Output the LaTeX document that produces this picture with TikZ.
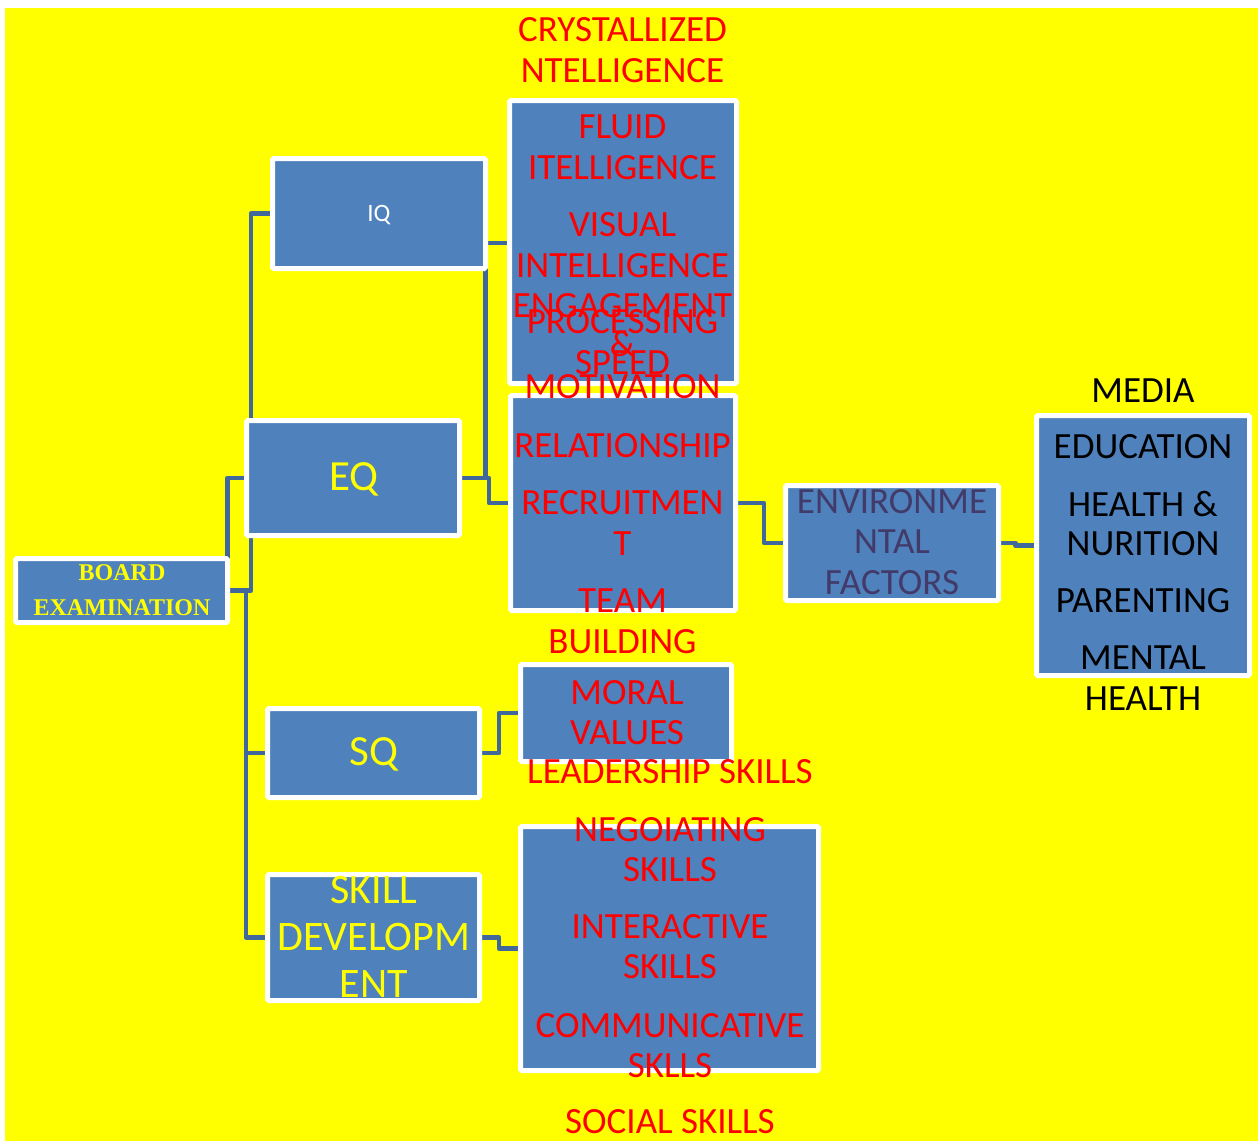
\documentclass[tikz,border=0pt]{standalone}
\usepackage{fontspec}
\setmainfont{Carlito}
\newfontfamily\boardfont{Liberation Serif}
\definecolor{boxblue}{RGB}{79,129,189}
\definecolor{connblue}{RGB}{64,104,154}
\definecolor{bgyellow}{RGB}{255,255,0}
\definecolor{envtext}{RGB}{66,58,104}
\tikzset{
  box/.style={draw=white, fill=boxblue, line width=5pt, rounded corners=1.5pt, inner sep=0pt, outer sep=0pt},
  conn/.style={draw=connblue, line width=4.5pt, line join=round},
  txt/.style={inner sep=0pt, anchor=base},
  redtxt/.style={txt, text=red, font=\fontsize{37}{40}\selectfont},
  blacktxt/.style={txt, text=black, font=\fontsize{37}{40}\selectfont},
  envtxt/.style={txt, text=envtext, font=\fontsize{37}{40}\selectfont},
  bigyellow/.style={txt, text=bgyellow, font=\fontsize{43}{46}\selectfont},
  sdtxt/.style={txt, text=bgyellow, font=\fontsize{42}{44}\selectfont},
}
\begin{document}
\begin{tikzpicture}[x=1pt, y=-1pt]
\useasboundingbox (0,0) rectangle (1258,1141);
\fill[white] (0,0) rectangle (1258,1141);
\fill[bgyellow] (5,8) rectangle (1258,1141);

% boxes (positions only; drawn after connectors)
\path
  (121.5,590.5) node[box, minimum width=212pt, minimum height=64pt, draw=none, fill=none] (board) {}
  (379,213.5) node[box, minimum width=213pt, minimum height=110pt, draw=none, fill=none] (iq) {}
  (353,478) node[box, minimum width=213pt, minimum height=115pt, draw=none, fill=none] (eq) {}
  (373.5,753) node[box, minimum width=212pt, minimum height=89pt, draw=none, fill=none] (sq) {}
  (373.5,937.5) node[box, minimum width=212pt, minimum height=126pt, draw=none, fill=none] (sd) {}
  (623,242) node[box, minimum width=227pt, minimum height=283pt, draw=none, fill=none] (fluid) {}
  (623,503) node[box, minimum width=225pt, minimum height=215pt, draw=none, fill=none] (rel) {}
  (892,543) node[box, minimum width=213pt, minimum height=115pt, draw=none, fill=none] (env) {}
  (1143,545.5) node[box, minimum width=213pt, minimum height=260pt, draw=none, fill=none] (edu) {}
  (626,713) node[box, minimum width=211pt, minimum height=97pt, draw=none, fill=none] (moral) {}
  (669.5,948.5) node[box, minimum width=298pt, minimum height=244pt, draw=none, fill=none] (skills) {};

% connectors
\draw[conn] (board.east) -- ++(23.5,0) |- (iq.west);
\draw[conn] (board.east) |- (eq.west);
\draw[conn] (board.east) -- ++(18.5,0) |- (sq.west);
\draw[conn] (board.east) -- ++(18.5,0) |- (sd.west);
\draw[conn] (eq.east) -- ++(26,0) |- ([yshift=-1pt]fluid.west);
\draw[conn] (eq.east) -- ++(29.5,0) |- (rel.west);
\draw[conn] (rel.east) -- ++(28.5,0) |- (env.west);
\draw[conn] (env.east) -- ++(17,0) |- (edu.west);
\draw[conn] (sq.east) -- ++(19.5,0) |- (moral.west);
\draw[conn] (sd.east) -- ++(19.5,0) |- (skills.west);

% visible boxes
\foreach \n in {board,iq,eq,sq,sd,fluid,rel,env,edu,moral,skills}{
  \draw[draw=white, fill=boxblue, line width=5pt, rounded corners=1.5pt]
    (\n.north west) rectangle (\n.south east);
}

% texts
\node[txt, text=bgyellow, font=\boardfont\bfseries\fontsize{24}{26}\selectfont] (b1) at (122,580) {BOARD};
\node[txt, text=bgyellow, font=\boardfont\bfseries\fontsize{24}{26}\selectfont] (b2) at (122,615) {EXAMINATION};
\node[txt, text=white, font=\fontsize{25}{28}\selectfont] (iqt) at (379,221) {IQ};
\node[bigyellow] (eqt) at (354,490) {EQ};
\node[bigyellow] (sqt) at (374,765) {SQ};
\node[sdtxt] (sd1) at (374,903) {SKILL};
\node[sdtxt] (sd2) at (374,950) {DEVELOPM};
\node[sdtxt] (sd3) at (374,997) {ENT};

\node[redtxt] (f1) at (622.5,41) {CRYSTALLIZED};
\node[redtxt] (f2) at (622.5,82) {NTELLIGENCE};
\node[redtxt] (f3) at (622.5,138) {FLUID};
\node[redtxt] (f4) at (622.5,179) {ITELLIGENCE};
\node[redtxt] (f5) at (622.5,236) {VISUAL};
\node[redtxt] (f6) at (622.5,277) {INTELLIGENCE};
\node[redtxt] (f7) at (622.5,333) {PROCESSING};
\node[redtxt] (f8) at (622.5,356) {\&};
\node[redtxt] (f9) at (622.5,374) {SPEED};

\node[redtxt] (r1) at (622.5,317) {ENGAGEMENT};
\node[redtxt] (r2) at (622.5,398) {MOTIVATION};
\node[redtxt] (r3) at (622.5,457) {RELATIONSHIP};
\node[redtxt] (r4) at (622.5,514) {RECRUITMEN};
\node[redtxt] (r5) at (622.5,555) {T};
\node[redtxt] (r6) at (622.5,612) {TEAM};
\node[redtxt] (r7) at (622.5,653) {BUILDING};

\node[envtxt] (e1) at (892,513) {ENVIRONME};
\node[envtxt] (e2) at (892,553) {NTAL};
\node[envtxt] (e3) at (892,594) {FACTORS};

\node[blacktxt] (m1) at (1143,402) {MEDIA};
\node[blacktxt] (m2) at (1143,458) {EDUCATION};
\node[blacktxt] (m3) at (1143,516) {HEALTH \&};
\node[blacktxt] (m4) at (1143,555) {NURITION};
\node[blacktxt] (m5) at (1143,612) {PARENTING};
\node[blacktxt] (m6) at (1143,669) {MENTAL};
\node[blacktxt] (m7) at (1143,710) {HEALTH};

\node[redtxt] (v1) at (627,704) {MORAL};
\node[redtxt] (v2) at (627,744) {VALUES};

\node[redtxt] (s1) at (670,783) {LEADERSHIP SKILLS};
\node[redtxt] (s2) at (670,841) {NEGOIATING};
\node[redtxt] (s3) at (670,881) {SKILLS};
\node[redtxt] (s4) at (670,938) {INTERACTIVE};
\node[redtxt] (s5) at (670,978) {SKILLS};
\node[redtxt] (s6) at (670,1037) {COMMUNICATIVE};
\node[redtxt] (s7) at (670,1077) {SKLLS};
\node[redtxt] (s8) at (670,1133) {SOCIAL SKILLS};
\end{tikzpicture}
\end{document}
